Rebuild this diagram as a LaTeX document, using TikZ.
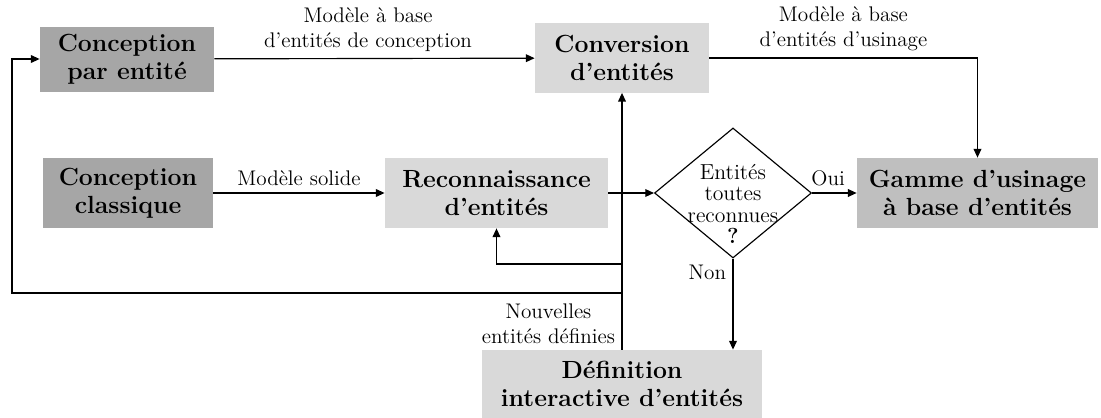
\documentclass[tikz,border=0pt]{standalone}
\usepackage{fontspec}
\usetikzlibrary{arrows.meta,shapes.geometric}
\definecolor{boxdark}{HTML}{A6A6A6}
\definecolor{boxmid}{HTML}{BFBFBF}
\definecolor{boxlight}{HTML}{D9D9D9}
\begin{document}
\begin{tikzpicture}[x=0.52pt,y=-0.52pt,
  box/.style={align=center,inner sep=0pt,font=\fontsize{12.9}{14.5}\selectfont\bfseries},
  dark/.style={box,fill=boxdark},
  mid/.style={box,fill=boxmid},
  light/.style={box,fill=boxlight},
  flow/.style={line width=0.6pt,-{Triangle[length=4.5pt,width=4pt]}},
  lbl/.style={align=center,font=\fontsize{11}{13}\selectfont},
  decision/.style={diamond,draw,line width=0.6pt,inner sep=0pt,minimum width=81.6pt,minimum height=67.6pt}]
\useasboundingbox (0,0) rectangle (1101,418);
\node[dark,minimum width=90.5pt,minimum height=33.8pt] (entite) at (127,59) {Conception\\par entité};
\node[dark,minimum width=88.4pt,minimum height=36.4pt] (classique) at (128,193) {Conception\\classique};
\node[light,minimum width=90.5pt,minimum height=35.9pt] (conv) at (622,58) {Conversion\\d'entités};
\node[light,minimum width=116pt,minimum height=36.4pt] (recon) at (496.5,193) {Reconnaissance\\d'entités};
\node[mid,minimum width=125.3pt,minimum height=36.4pt] (gamme) at (977.5,193) {Gamme d'usinage\\à base d'entités};
\node[light,minimum width=146.1pt,minimum height=35.4pt] (defi) at (622,384) {Définition\\interactive d'entités};
\node[decision] (test) at (733,193) {};
\node[align=center,font=\fontsize{11.3}{11.2}\selectfont] (testtext) at (733,204) {Entités\\toutes\\reconnues\\\textbf{?}};
\coordinate (fork1) at (622,264);
\coordinate (fork2) at (622,293);
\coordinate (loopcorner) at (12,293);
\draw[flow] (entite) -- node[lbl,above,pos=0.48] (lblconception) {Modèle à base\\d'entités de conception} (conv);
\draw[flow] (conv) -| node[lbl,above,pos=0.25] (lblusinage) {Modèle à base\\d'entités d'usinage} (gamme);
\draw[flow] (classique) -- node[lbl,above,pos=0.5] (lblsolide) {Modèle solide} (recon);
\draw[flow] (recon) -- (test);
\draw[flow] (test) -- node[lbl,above,pos=0.36] (lbloui) {Oui} (gamme);
\draw[flow] (test) -- node[lbl,left,pos=0.15] (lblnon) {Non} (test |- defi.north);
\draw[flow] (defi) -- node[lbl,left,pos=0.1] (lblnouvelles) {Nouvelles\\entités définies} (conv);
\draw[flow] (fork1) -| (recon);
\draw[flow] (fork2) -- (loopcorner) |- (entite);
\end{tikzpicture}
\end{document}
